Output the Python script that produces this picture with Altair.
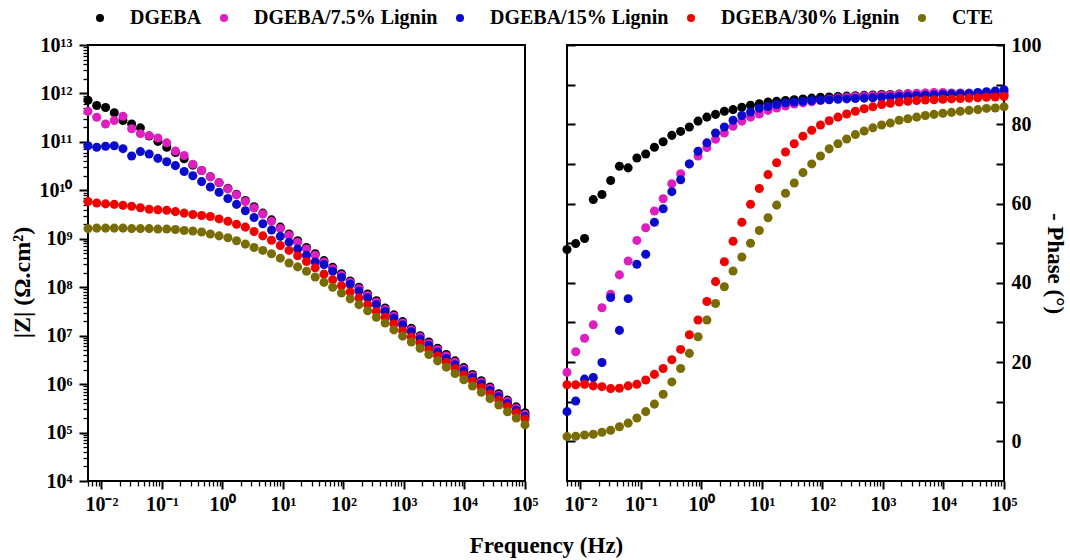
import altair as alt
import pandas as pd

# ---------------- data ----------------
series_names = ["DGEBA", "DGEBA/7.5% Lignin", "DGEBA/15% Lignin", "DGEBA/30% Lignin", "CTE"]
series_colors = ["#000000", "#DE1EBE", "#0A0ACD", "#F20000", "#7A6C05"]

freq_hz = [0.0060, 0.00836, 0.0117, 0.0163, 0.0227, 0.0316, 0.0441, 0.0615, 0.0857, 0.120,
           0.167, 0.233, 0.324, 0.453, 0.631, 0.879, 1.23, 1.71, 2.39, 3.33,
           4.65, 6.47, 9.04, 12.6, 17.5, 24.5, 34.1, 47.6, 66.4, 92.7,
           129.1, 180.3, 251.2, 349.9, 488.7, 680.8, 950.6, 1324, 1849, 2576,
           3597, 5010, 6980, 9750, 13580, 18970, 26420, 36900, 51400, 71780, 100000]

# log10 |Z| (Ohm.cm2)
logz_dgeba = [11.86, 11.75, 11.71, 11.60, 11.44, 11.37, 11.29, 11.12, 11.01, 10.89,
              10.78, 10.65, 10.52, 10.41, 10.28, 10.16, 10.04, 9.92, 9.79, 9.66,
              9.53, 9.39, 9.24, 9.10, 8.96, 8.82, 8.69, 8.55, 8.41, 8.28,
              8.13, 8.00, 7.86, 7.72, 7.57, 7.43, 7.29, 7.15, 7.00, 6.87,
              6.74, 6.61, 6.48, 6.34, 6.20, 6.07, 5.94, 5.80, 5.67, 5.53, 5.41]
logz_l75 = [11.63, 11.51, 11.37, 11.44, 11.53, 11.27, 11.17, 11.13, 11.08, 10.98,
            10.81, 10.72, 10.54, 10.41, 10.28, 10.16, 10.03, 9.91, 9.77, 9.635,
            9.51, 9.36, 9.21, 9.07, 8.93, 8.79, 8.66, 8.52, 8.38, 8.245,
            8.10, 7.97, 7.83, 7.69, 7.54, 7.40, 7.26, 7.12, 6.97, 6.84,
            6.71, 6.58, 6.45, 6.31, 6.17, 6.04, 5.91, 5.77, 5.64, 5.50, 5.37]
logz_l15 = [10.92, 10.89, 10.91, 10.92, 10.86, 10.71, 10.80, 10.75, 10.66, 10.59,
            10.51, 10.39, 10.30, 10.18, 10.07, 9.96, 9.83, 9.71, 9.58, 9.44,
            9.31, 9.18, 9.05, 8.93, 8.79, 8.66, 8.52, 8.47, 8.33, 8.20,
            8.06, 7.92, 7.78, 7.64, 7.50, 7.36, 7.22, 7.08, 6.93, 6.80,
            6.66, 6.53, 6.40, 6.27, 6.13, 6.00, 5.87, 5.74, 5.60, 5.46, 5.33]
logz_l30 = [9.77, 9.74, 9.72, 9.71, 9.69, 9.67, 9.64, 9.61, 9.60, 9.59,
            9.56, 9.53, 9.50, 9.48, 9.46, 9.41, 9.36, 9.30, 9.24, 9.15,
            9.06, 8.97, 8.86, 8.76, 8.65, 8.53, 8.40, 8.27, 8.155, 8.03,
            7.90, 7.78, 7.64, 7.50, 7.38, 7.24, 7.10, 6.97, 6.84, 6.71,
            6.58, 6.45, 6.32, 6.19, 6.06, 5.93, 5.80, 5.67, 5.54, 5.41, 5.28]
logz_cte = [9.21, 9.22, 9.22, 9.22, 9.22, 9.21, 9.21, 9.21, 9.20, 9.20,
            9.19, 9.17, 9.16, 9.14, 9.10, 9.06, 9.02, 8.96, 8.89, 8.82,
            8.76, 8.69, 8.60, 8.50, 8.42, 8.33, 8.21, 8.10, 8.00, 7.88,
            7.76, 7.64, 7.515, 7.38, 7.26, 7.12, 6.99, 6.87, 6.74, 6.61,
            6.48, 6.35, 6.22, 6.09, 5.96, 5.83, 5.70, 5.57, 5.43, 5.30, 5.16]

# - Phase (degrees)
phase_dgeba = [48.4, 49.9, 51.2, 61.0, 62.3, 65.8, 69.4, 69.0, 71.5, 72.5,
               74.2, 75.6, 77.2, 78.2, 79.3, 80.8, 81.8, 82.5, 83.3, 83.7,
               84.3, 84.8, 85.2, 85.6, 85.8, 86.0, 86.2, 86.4, 86.6, 86.8,
               86.9, 87.0, 87.1, 87.2, 87.3, 87.4, 87.5, 87.5, 87.6, 87.7,
               87.7, 87.8, 87.8, 87.8, 87.7, 87.7, 87.6, 87.6, 87.5, 87.5, 87.4]
phase_l75 = [17.4, 22.6, 26.0, 29.4, 33.7, 37.1, 42.0, 45.5, 50.7, 53.9,
             58.1, 61.2, 65.0, 67.5, 70.0, 72.0, 74.1, 76.2, 77.8, 79.5,
             80.8, 81.8, 82.6, 83.5, 84.1, 84.6, 85.1, 85.4, 85.7, 86.0,
             86.4, 86.6, 86.8, 87.0, 87.1, 87.2, 87.3, 87.4, 87.5, 87.7,
             87.8, 87.9, 88.0, 88.0, 87.9, 87.9, 87.8, 87.8, 87.9, 88.0, 88.1]
phase_l15 = [7.5, 10.2, 15.7, 16.1, 19.9, 36.3, 28.0, 36.0, 44.7, 47.2,
             55.3, 58.7, 63.0, 66.0, 70.0, 73.2, 75.3, 77.8, 79.3, 81.0,
             82.2, 83.1, 84.0, 84.5, 85.0, 85.4, 85.6, 85.8, 86.0, 86.1,
             86.2, 86.3, 86.4, 86.5, 86.6, 86.7, 86.8, 86.9, 87.0, 87.1,
             87.2, 87.3, 87.4, 87.5, 87.6, 87.7, 87.8, 88.0, 88.2, 88.4, 88.7]
phase_l30 = [14.3, 14.3, 14.4, 14.0, 13.8, 13.3, 13.4, 14.0, 14.4, 15.5,
             16.9, 18.4, 20.6, 23.2, 26.9, 30.6, 35.3, 40.3, 45.3, 50.5,
             55.3, 59.8, 63.8, 67.3, 70.3, 73.0, 75.1, 77.0, 78.5, 79.8,
             80.9, 81.8, 82.6, 83.3, 83.9, 84.4, 85.0, 85.3, 85.6, 85.8,
             86.0, 86.1, 86.2, 86.3, 86.4, 86.5, 86.6, 86.7, 86.8, 86.9, 87.0]
phase_cte = [1.2, 1.3, 1.6, 1.8, 2.3, 2.8, 3.7, 4.6, 5.9, 7.5,
             9.4, 11.9, 15.0, 18.4, 22.2, 26.4, 30.6, 34.8, 39.0, 43.0,
             46.5, 50.0, 53.2, 56.4, 59.6, 62.6, 65.2, 67.8, 70.0, 72.0,
             73.8, 75.1, 76.3, 77.4, 78.3, 79.1, 79.8, 80.3, 81.0, 81.4,
             81.8, 82.2, 82.5, 82.8, 83.0, 83.3, 83.5, 83.7, 84.0, 84.1, 84.4]

logz_all = [logz_dgeba, logz_l75, logz_l15, logz_l30, logz_cte]
phase_all = [phase_dgeba, phase_l75, phase_l15, phase_l30, phase_cte]

rows = []
for i, (name, lz, ph) in enumerate(zip(series_names, logz_all, phase_all)):
    for f, a, p in zip(freq_hz, lz, ph):
        rows.append({"series": name, "order": i, "freq": f, "z": 10 ** a, "phase": p})
df = pd.DataFrame(rows)

# ---------------- styling helpers ----------------
FONT = "Liberation Serif"
EXP = "round(log(datum.value)/LN10)"
SUP = "['\u2070','\u00b9','\u00b2','\u00b3','\u2074','\u2075','\u2076','\u2077','\u2078','\u2079']"
LABEL = (f"'10' + ({EXP} < 0 ? '\u207b' : '') + "
         f"(abs({EXP}) >= 10 ? {SUP}[floor(abs({EXP})/10)] : '') + "
         f"{SUP}[abs({EXP}) % 10]")

x_major = [10.0 ** n for n in range(-2, 6)]
x_minor = [k * 10.0 ** n for n in range(-3, 5) for k in range(2, 10) if 0.006 <= k * 10.0 ** n <= 1e5]
y_major = [10.0 ** n for n in range(4, 14)]
y_minor = [k * 10.0 ** n for n in range(4, 13) for k in range(2, 10)]
phase_ticks = [0, 10, 20, 30, 40, 50, 60, 70, 80, 90, 100]

color = alt.Color("series:N", sort=series_names,
                  scale=alt.Scale(domain=series_names, range=series_colors),
                  legend=alt.Legend(title=None, orient="none", legendX=2, legendY=-37,
                                    direction="horizontal",
                                    symbolType="circle", symbolSize=64, symbolStrokeWidth=0,
                                    labelFont=FONT, labelFontSize=20, labelFontWeight="bold",
                                    labelColor="black", labelOffset=20, columnPadding=12,
                                    labelLimit=0))

lab_kw = dict(labelFont=FONT, labelFontSize=20, labelFontWeight="bold", labelColor="black",
              labelFlush=False, labelOverlap=False, domain=False, grid=False, tickColor="black")
minor_kw = dict(tickColor="black", tickSize=5, tickWidth=1.3, labels=False, domain=False,
                grid=False, title=None)

x_axis_major_left = alt.Axis(values=x_major, orient="bottom", labelExpr=LABEL, tickSize=8, tickWidth=2,
                             labelPadding=5, title="Frequency (Hz)",
                             titleFont=FONT, titleFontSize=23, titleFontWeight="bold", titleColor="black",
                             titleX=458, titleY=64, titleBaseline="middle", **lab_kw)
x_axis_major_right = alt.Axis(values=x_major, orient="bottom", labelExpr=LABEL, tickSize=8, tickWidth=2,
                              labelPadding=5, title=None, **lab_kw)
x_axis_minor = alt.Axis(values=x_minor, orient="bottom", **minor_kw)
y_axis_major = alt.Axis(values=y_major, orient="left", labelExpr=LABEL, tickSize=9, tickWidth=2,
                        labelPadding=7, title="|Z| (\u03a9.cm\u00b2)",
                        titleFont=FONT, titleFontSize=24, titleFontWeight="bold", titleColor="black",
                        titlePadding=5, titleY=237, **lab_kw)
y_axis_minor = alt.Axis(values=y_minor, orient="left", **minor_kw)

x_scale = alt.Scale(type="log", domain=[0.006, 1e5], nice=False)
z_scale = alt.Scale(type="log", domain=[1e4, 1e13], nice=False)
p_scale = alt.Scale(domain=[-10, 100], nice=False, zero=False)

W, H = 437, 436
PT = 82

left_ghost = alt.Chart(df).mark_circle(size=1, opacity=0).encode(
    x=alt.X("freq:Q", scale=x_scale, axis=x_axis_minor),
    y=alt.Y("z:Q", scale=z_scale, axis=y_axis_minor),
)
left_pts = alt.Chart(df).mark_circle(size=PT, opacity=1).encode(
    x=alt.X("freq:Q", scale=x_scale, axis=x_axis_major_left),
    y=alt.Y("z:Q", scale=z_scale, axis=y_axis_major),
    color=color,
    order=alt.Order("order:Q"),
)
left = alt.layer(left_ghost, left_pts).resolve_axis(x="independent", y="independent").properties(width=W, height=H)

phase_left_axis = alt.Axis(values=phase_ticks, orient="left", offset=-8, tickSize=8, tickWidth=2,
                           tickColor="black", labels=False, domain=False, grid=False, title=None)
phase_right_axis = alt.Axis(values=phase_ticks, orient="right", offset=-8, tickSize=8, tickWidth=2,
                            labelExpr="datum.value % 20 == 0 ? datum.value : ''",
                            labelPadding=7, title="- Phase (\u00b0)", titleFont=FONT, titleFontSize=23,
                            titleFontWeight="bold", titleColor="black", titlePadding=1, **lab_kw)

right_ghost = alt.Chart(df).mark_circle(size=1, opacity=0).encode(
    x=alt.X("freq:Q", scale=x_scale, axis=x_axis_minor),
    y=alt.Y("phase:Q", scale=p_scale, axis=phase_left_axis),
)
right_pts = alt.Chart(df).mark_circle(size=PT, opacity=1).encode(
    x=alt.X("freq:Q", scale=x_scale, axis=x_axis_major_right),
    y=alt.Y("phase:Q", scale=p_scale, axis=phase_right_axis),
    color=color,
    order=alt.Order("order:Q"),
)
right = alt.layer(right_ghost, right_pts).resolve_axis(x="independent", y="independent").properties(width=W, height=H)

chart = alt.hconcat(left, right, spacing=42, bounds="flush").properties(
    padding={"left": 9, "top": 8, "right": 0, "bottom": 0},
    background="white",
).configure_view(stroke="black", strokeWidth=2).configure_axis(labelFont=FONT, titleFont=FONT)

chart.save("out.html", embed_options={"renderer": "svg", "actions": False})
